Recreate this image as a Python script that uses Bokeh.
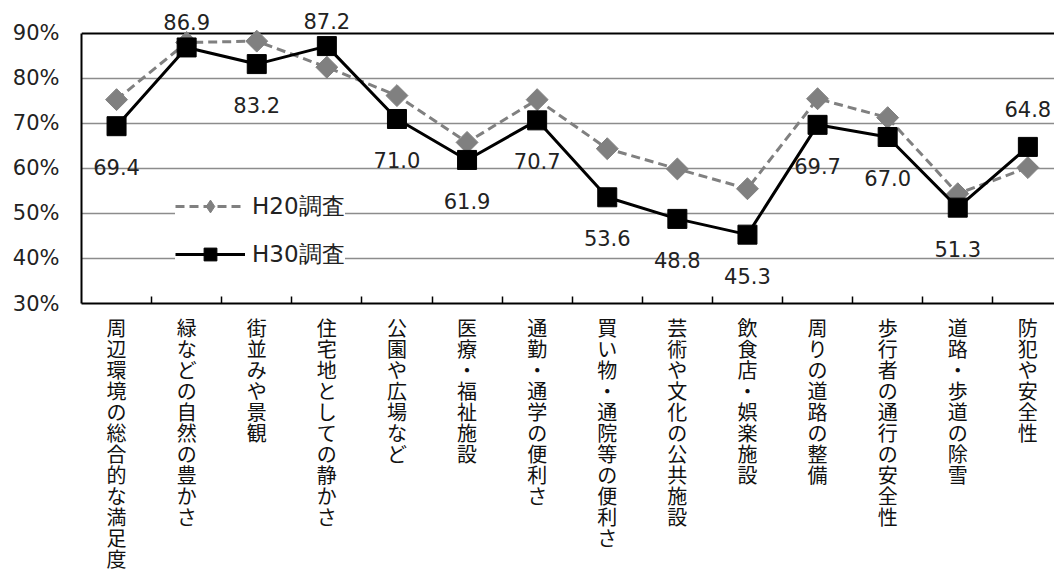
import math
from bokeh.plotting import figure
from bokeh.models import (Range1d, FixedTicker, ColumnDataSource, LabelSet,
                          Legend, LegendItem, Grid)
from bokeh.core.properties import value
from bokeh.embed import file_html
from bokeh.resources import INLINE

# ---- data ----
categories = ["周辺環境の総合的な満足度", "緑などの自然の豊かさ", "街並みや景観",
              "住宅地としての静かさ", "公園や広場など", "医療・福祉施設",
              "通勤・通学の便利さ", "買い物・通院等の便利さ", "芸術や文化の公共施設",
              "飲食店・娯楽施設", "周りの道路の整備", "歩行者の通行の安全性",
              "道路・歩道の除雪", "防犯や安全性"]
h20 = [75.3, 88.0, 88.3, 82.5, 76.2, 65.8, 75.3, 64.4, 59.9, 55.5, 75.5, 71.3, 54.4, 60.2]
h30 = [69.4, 86.9, 83.2, 87.2, 71.0, 61.9, 70.7, 53.6, 48.8, 45.3, 69.7, 67.0, 51.3, 64.8]
series_names = ["H20調査", "H30調査"]
y_ticks = [30, 40, 50, 60, 70, 80, 90]
y_tick_labels = ["30%", "40%", "50%", "60%", "70%", "80%", "90%"]

# ---- style ----
NUM_FONT = "DejaVu Sans"
JP_FONT = "Noto Sans CJK JP"
GRAY = "#808080"
label_above = {1: 25, 3: 25, 13: 38}   # label placement (screen px above point)
label_below = -41

xs = list(range(len(categories)))

p = figure(width=1054, height=577,
           x_range=Range1d(-0.5, 13.38), y_range=Range1d(30, 96.22),
           output_backend="svg", toolbar_location=None,
           min_border_left=81, min_border_right=0,
           min_border_top=5, min_border_bottom=274)
p.outline_line_color = None
p.background_fill_color = "white"
p.border_fill_color = "white"

# y axis
p.yaxis.ticker = FixedTicker(ticks=y_ticks)
p.yaxis.bounds = (30, 90)
p.yaxis.major_label_overrides = {t: l for t, l in zip(y_ticks, y_tick_labels)}
p.yaxis.major_label_text_font = NUM_FONT
p.yaxis.major_label_text_font_size = "21px"
p.yaxis.major_label_text_color = "#222222"
p.yaxis.major_tick_line_color = None
p.yaxis.major_tick_in = 0
p.yaxis.major_tick_out = 0
p.yaxis.minor_tick_line_color = None
p.yaxis.major_label_standoff = 22
p.yaxis.axis_line_color = "black"
p.yaxis.axis_line_width = 2

# x axis: labels at category centres, tick marks at category boundaries
p.xaxis.ticker = FixedTicker(ticks=xs, minor_ticks=[i + 0.5 for i in xs[:-1]])
p.xaxis.major_label_overrides = {i: "\n".join(c) for i, c in zip(xs, categories)}
p.xaxis.major_label_text_font = JP_FONT
p.xaxis.major_label_text_font_size = "20px"
p.xaxis.major_label_text_line_height = 0.725
p.xaxis.major_label_text_color = "#111111"
p.xaxis.major_label_text_baseline = "top"
p.xaxis.major_label_standoff = 9
p.xaxis.major_tick_line_color = None
p.xaxis.major_tick_in = 0
p.xaxis.major_tick_out = 0
p.xaxis.minor_tick_in = 7
p.xaxis.minor_tick_out = 0
p.xaxis.minor_tick_line_color = "black"
p.xaxis.minor_tick_line_width = 1.5
p.xaxis.axis_line_color = "black"
p.xaxis.axis_line_width = 2

# grids
p.xgrid.visible = False
p.ygrid.ticker = FixedTicker(ticks=[t for t in y_ticks if 30 < t < 90])
p.ygrid.grid_line_color = "#8c8c8c"
p.ygrid.grid_line_width = 1.3
p.add_layout(Grid(dimension=1, ticker=FixedTicker(ticks=[90]),
                  grid_line_color="black", grid_line_width=2))

# series
l20 = p.line(xs, h20, line_color=GRAY, line_width=3, line_dash="9 5")
d20 = p.scatter(xs, h20, marker="diamond", size=15,
                fill_color=GRAY, line_color=GRAY)
s20 = p.scatter(xs, h20, marker="square", angle=math.pi / 4, size=15.5,
                fill_color=GRAY, line_color=GRAY)
l30 = p.line(xs, h30, line_color="black", line_width=3)
s30 = p.scatter(xs, h30, marker="square", size=19,
                fill_color="black", line_color="black")

# data labels for H30
dl_src = ColumnDataSource(dict(
    x=xs, y=h30, t=["%.1f" % v for v in h30],
    dy=[label_above.get(i, label_below) for i in xs]))
p.add_layout(LabelSet(x="x", y="y", text="t", y_offset="dy", source=dl_src,
                      text_align="center", text_baseline="middle",
                      text_font=value(NUM_FONT), text_font_size=value("21px"),
                      text_color="#222222"))

# legend
legend = Legend(items=[LegendItem(label=series_names[0], renderers=[l20, d20]),
                       LegendItem(label=series_names[1], renderers=[l30, s30])],
                location=(94, 33), margin=0, padding=13, spacing=16,
                glyph_width=70, glyph_height=32, label_height=32,
                label_standoff=7,
                label_text_font=NUM_FONT, label_text_font_size="23px",
                label_text_color="#222222",
                border_line_color=None, background_fill_color="white",
                background_fill_alpha=1.0)
p.add_layout(legend)

open("out.html", "w").write(file_html(p, INLINE))
